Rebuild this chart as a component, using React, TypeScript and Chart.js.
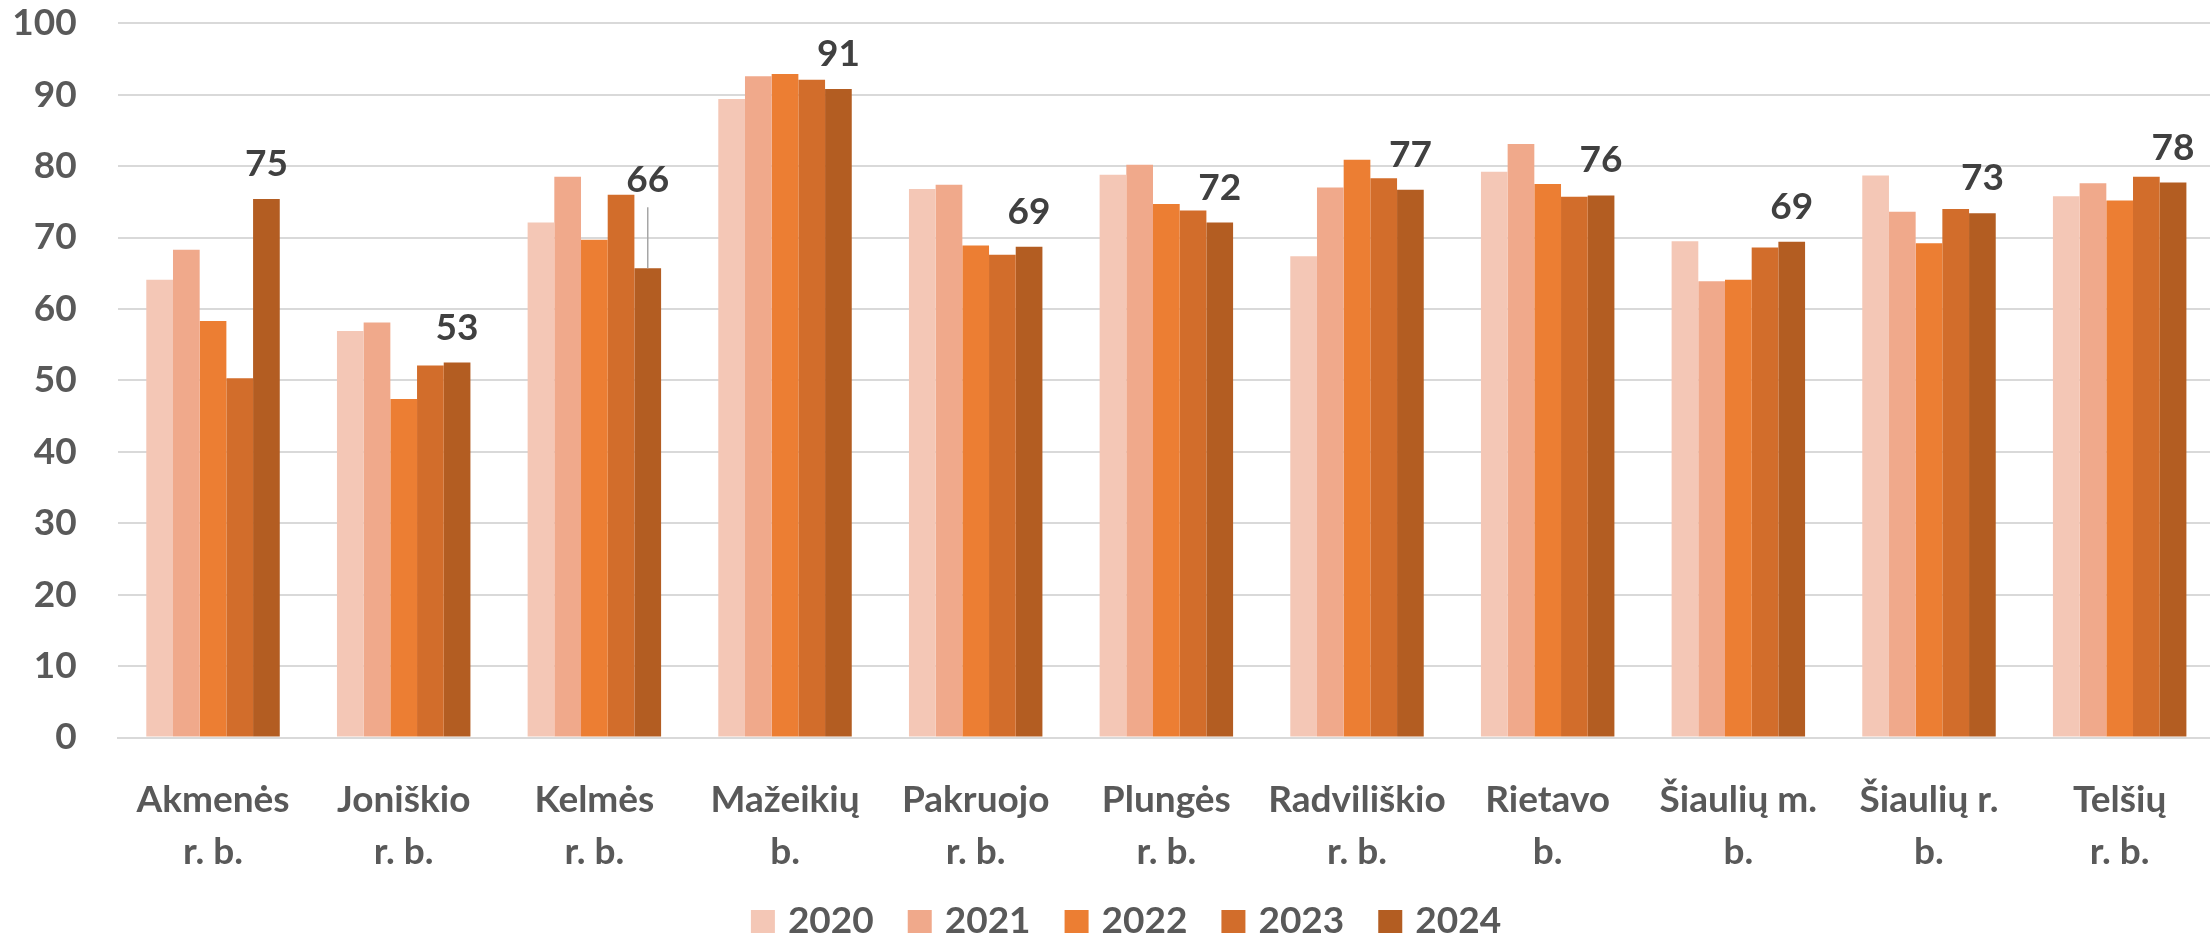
import React, { useEffect, useRef } from "react";
import { Chart, registerables } from "chart.js";

Chart.register(...registerables);

const categories: string[][] = [
  ["Akmenės", "r. b."],
  ["Joniškio", "r. b."],
  ["Kelmės", "r. b."],
  ["Mažeikių", "b."],
  ["Pakruojo", "r. b."],
  ["Plungės", "r. b."],
  ["Radviliškio", "r. b."],
  ["Rietavo", "b."],
  ["Šiaulių m.", "b."],
  ["Šiaulių r.", "b."],
  ["Telšių", "r. b."],
];

const years = ["2020", "2021", "2022", "2023", "2024"];

const values2020 = [64.1, 56.9, 72.1, 89.4, 76.8, 78.8, 67.4, 79.2, 69.5, 78.7, 75.8];
const values2021 = [68.3, 58.1, 78.5, 92.6, 77.4, 80.2, 77.0, 83.1, 63.9, 73.6, 77.6];
const values2022 = [58.3, 47.4, 69.7, 92.9, 68.9, 74.7, 80.9, 77.5, 64.1, 69.2, 75.2];
const values2023 = [50.3, 52.1, 76.0, 92.1, 67.6, 73.8, 78.3, 75.7, 68.6, 74.0, 78.5];
const values2024 = [75.4, 52.5, 65.7, 90.8, 68.7, 72.1, 76.7, 75.9, 69.4, 73.4, 77.7];

const yMin = 0;
const yMax = 100;
const yStep = 10;

const seriesValues = [values2020, values2021, values2022, values2023, values2024];
const seriesColors = ["#F4C7B6", "#F0A98B", "#EC7E33", "#D26D2B", "#B35D22"];

const FONT = "Lato, 'Open Sans', 'DejaVu Sans', sans-serif";
const FONT_SIZE = 37;

const labelPlugin = {
  id: "lastSeriesLabels",
  afterDatasetsDraw(chart: any) {
    const ctx = chart.ctx;
    const dsIndex = chart.data.datasets.length - 1;
    const meta = chart.getDatasetMeta(dsIndex);
    const data = chart.data.datasets[dsIndex].data as number[];
    ctx.save();
    ctx.font = `bold ${FONT_SIZE}px ${FONT}`;
    ctx.fillStyle = "#404040";
    ctx.textAlign = "center";
    ctx.textBaseline = "alphabetic";
    meta.data.forEach((bar: any, i: number) => {
      const moved = i === 2;
      const offset = moved ? 76 : 23;
      if (moved) {
        ctx.strokeStyle = "#A6A6A6";
        ctx.lineWidth = 1.5;
        ctx.beginPath();
        ctx.moveTo(bar.x, bar.y - 61);
        ctx.lineTo(bar.x, bar.y);
        ctx.stroke();
      }
      ctx.fillText(String(Math.round(data[i])), bar.x, bar.y - offset);
    });
    ctx.restore();
  },
};

const legendPlugin = {
  id: "bottomLegend",
  afterDraw(chart: any) {
    const ctx = chart.ctx;
    const centerX = 1126;
    const centerY = 921.5;
    const boxW = 24;
    const boxH = 23;
    const gap = 13;
    const spacing = 34;
    ctx.save();
    ctx.font = `bold ${FONT_SIZE}px ${FONT}`;
    ctx.textBaseline = "middle";
    ctx.textAlign = "left";
    const items = chart.data.datasets.map((ds: any) => ({
      text: String(ds.label),
      color: ds.backgroundColor,
      w: ctx.measureText(String(ds.label)).width,
    }));
    const total =
      items.reduce((s: number, it: any) => s + boxW + gap + it.w, 0) +
      spacing * (items.length - 1);
    let x = centerX - total / 2;
    items.forEach((it: any) => {
      ctx.fillStyle = it.color;
      ctx.fillRect(x, centerY - boxH / 2, boxW, boxH);
      ctx.fillStyle = "#595959";
      ctx.fillText(it.text, x + boxW + gap, centerY);
      x += boxW + gap + it.w + spacing;
    });
    ctx.restore();
  },
};

export default function App() {
  const canvasRef = useRef<HTMLCanvasElement | null>(null);

  useEffect(() => {
    const canvas = canvasRef.current;
    if (!canvas) return;
    const chart = new Chart(canvas, {
      type: "bar",
      data: {
        labels: categories,
        datasets: years.map((y, i) => ({
          label: y,
          data: seriesValues[i],
          backgroundColor: seriesColors[i],
          borderWidth: 0,
          categoryPercentage: 0.7,
          barPercentage: 1.0,
        })),
      },
      options: {
        responsive: false,
        animation: false,
        devicePixelRatio: 1,
        layout: { padding: { left: 0, right: 0, top: 23.3, bottom: 65 } },
        plugins: {
          legend: { display: false },
          tooltip: { enabled: false },
        },
        scales: {
          x: {
            offset: true,
            grid: { display: false },
            border: { display: true, color: "#D9D9D9", width: 2 },
            ticks: {
              color: "#595959",
              font: { family: FONT, size: FONT_SIZE, weight: "bold", lineHeight: 1.4 },
              padding: 29,
              maxRotation: 0,
              minRotation: 0,
              autoSkip: false,
            },
            afterFit: (scale: any) => {
              scale.height = 134.5;
              scale.paddingLeft = 0;
              scale.paddingRight = 0;
            },
          },
          y: {
            min: yMin,
            max: yMax,
            border: { display: false },
            grid: { color: "#D9D9D9", lineWidth: 2, drawTicks: false },
            ticks: {
              stepSize: yStep,
              color: "#595959",
              padding: 41,
              font: { family: FONT, size: FONT_SIZE, weight: "bold" },
            },
            afterFit: (scale: any) => {
              scale.width = 117.7;
              scale.paddingTop = 0;
              scale.paddingBottom = 0;
            },
          },
        },
      },
      plugins: [labelPlugin, legendPlugin],
    });
    return () => chart.destroy();
  }, []);

  return (
    <div
      style={{
        position: "fixed",
        left: 0,
        top: 0,
        width: 2210,
        height: 937,
        overflow: "hidden",
        background: "#ffffff",
      }}
    >
      <canvas
        ref={canvasRef}
        width={2215}
        height={937}
        style={{ display: "block", width: 2215, height: 937 }}
      />
    </div>
  );
}
